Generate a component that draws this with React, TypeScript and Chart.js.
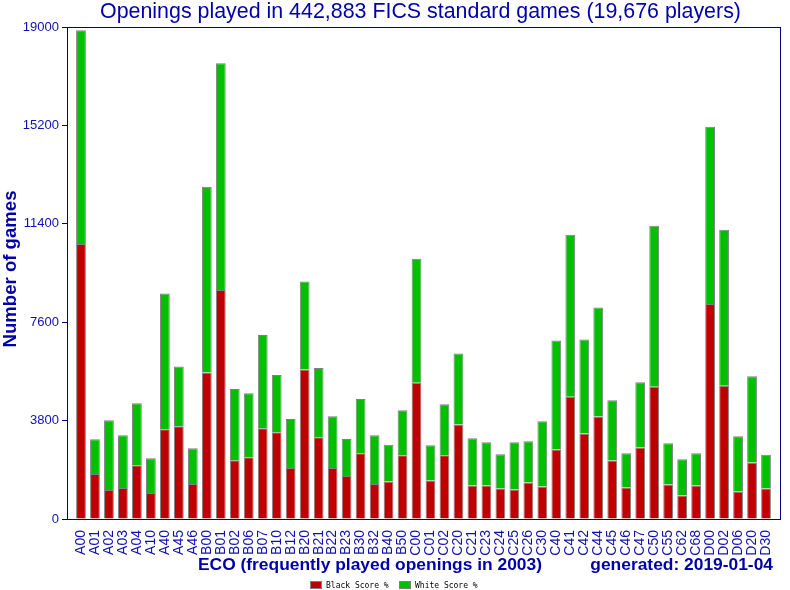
import React, { useEffect, useRef } from "react";
import { Chart, registerables } from "chart.js";

Chart.register(...registerables);

const categories = [
  "A00", "A01", "A02", "A03", "A04", "A10", "A40", "A45", "A46",
  "B00", "B01", "B02", "B06", "B07", "B10", "B12", "B20", "B21", "B22", "B23", "B30", "B32", "B40", "B50",
  "C00", "C01", "C02", "C20", "C21", "C23", "C24", "C25", "C26", "C30", "C40", "C41", "C42", "C44", "C45", "C46", "C47", "C50", "C55", "C62", "C68",
  "D00", "D02", "D06", "D20", "D30",
];

const blackGames = [
  10619, 1733, 1117, 1194, 2080, 1002, 3467, 3582, 1348,
  5662, 8847, 2273, 2388, 3505, 3351, 1965, 5778, 3159, 1965, 1656, 2542, 1348, 1451, 2465,
  5264, 1489, 2465, 3647, 1297, 1297, 1181, 1143, 1412, 1258, 2684, 4725, 3300, 3955, 2260, 1220, 2761, 5110, 1335, 912, 1297,
  8307, 5149, 1066, 2183, 1181,
];

const whiteGames = [
  8256, 1349, 2696, 2042, 2388, 1348, 5239, 2312, 1387,
  7165, 8757, 2747, 2466, 3596, 2209, 1900, 3390, 2670, 2003, 1438, 2093, 1888, 1412, 1734,
  4789, 1361, 1965, 2747, 1823, 1669, 1323, 1823, 1593, 2517, 4211, 6249, 3634, 4211, 2324, 1322, 2516, 6212, 1593, 1399, 1245,
  6840, 6018, 2131, 3325, 1297,
];

const yTicks = [0, 3800, 7600, 11400, 15200, 19000];

const titleText = "Openings played in 442,883 FICS standard games (19,676 players)";
const yTitleText = "Number of games";
const xTitleText = "ECO (frequently played openings in 2003)";
const generatedText = "generated: 2019-01-04";
const seriesLabels = ["Black Score %", "White Score %"];
const seriesColors = ["#C00000", "#00C000"];

const TEXT = "#1010B0";
const FRAME = "#000080";

const decorPlugin = {
  id: "decor",
  afterDatasetsDraw(chart: any) {
    const { ctx, chartArea } = chart;
    ctx.save();
    ctx.strokeStyle = FRAME;
    ctx.lineWidth = 1;
    ctx.strokeRect(
      Math.round(chartArea.left) + 0.5,
      Math.round(chartArea.top) + 0.5,
      Math.round(chartArea.right - chartArea.left),
      Math.round(chartArea.bottom - chartArea.top)
    );
    ctx.restore();
  },
  afterDraw(chart: any) {
    const { ctx, chartArea } = chart;
    ctx.save();
    ctx.fillStyle = "#0000AA";
    // title
    ctx.font = "21.4px 'Liberation Sans', Arial, sans-serif";
    ctx.textAlign = "center";
    ctx.textBaseline = "alphabetic";
    ctx.fillText(titleText, (chartArea.left + chartArea.right) / 2 - 3, 18);
    // y title
    ctx.font = "bold 18.6px 'Liberation Sans', Arial, sans-serif";
    ctx.save();
    ctx.translate(16, (chartArea.top + chartArea.bottom) / 2 - 4);
    ctx.rotate(-Math.PI / 2);
    ctx.textAlign = "center";
    ctx.fillText(yTitleText, 0, 0);
    ctx.restore();
    // x titles
    ctx.font = "bold 17.4px 'Liberation Sans', Arial, sans-serif";
    ctx.textAlign = "center";
    ctx.fillText(xTitleText, 370, 570);
    ctx.textAlign = "right";
    ctx.fillText(generatedText, 773, 570);
    // legend
    const ds = chart.data.datasets;
    ctx.font = "8px 'DejaVu Sans Mono', monospace";
    ctx.textAlign = "left";
    ctx.textBaseline = "middle";
    const xs = [310, 399];
    ds.forEach((d: any, i: number) => {
      const x = xs[i];
      ctx.fillStyle = d.backgroundColor;
      ctx.fillRect(x, 581, 12, 8);
      ctx.strokeStyle = "#808080";
      ctx.lineWidth = 1;
      ctx.strokeRect(x + 0.5, 581.5, 11, 7);
      ctx.fillStyle = "#000000";
      ctx.fillText(d.label, x + 16, 585.5);
    });
    ctx.restore();
  },
};

export default function App() {
  const canvasRef = useRef<HTMLCanvasElement | null>(null);

  useEffect(() => {
    if (!canvasRef.current) return;
    const chart = new Chart(canvasRef.current, {
      type: "bar",
      data: {
        datasets: [
          {
            label: seriesLabels[0],
            data: blackGames.map((v, i) => ({ x: i, y: v })),
            backgroundColor: seriesColors[0],
            borderColor: "#808080",
            borderWidth: 1,
            barPercentage: 0.7,
            categoryPercentage: 1,
          },
          {
            label: seriesLabels[1],
            data: whiteGames.map((v, i) => ({ x: i, y: v })),
            backgroundColor: seriesColors[1],
            borderColor: "#808080",
            borderWidth: 1,
            barPercentage: 0.7,
            categoryPercentage: 1,
          },
        ],
      },
      plugins: [decorPlugin],
      options: {
        animation: false,
        responsive: true,
        maintainAspectRatio: false,
        devicePixelRatio: 1,
        layout: { padding: { left: 0, right: 10, top: 27, bottom: 0 } },
        plugins: {
          legend: { display: false },
          title: { display: false },
          tooltip: { enabled: false },
        },
        scales: {
          x: {
            type: "linear",
            stacked: true,
            offset: false,
            min: -1,
            max: categories.length,
            border: { display: false },
            grid: { display: false, drawOnChartArea: false },
            afterBuildTicks: (axis: any) => {
              axis.ticks = categories.map((_, i) => ({ value: i }));
            },
            afterFit: (axis: any) => {
              axis.height = 71;
            },
            ticks: {
              autoSkip: false,
              minRotation: 90,
              maxRotation: 90,
              padding: 3,
              color: TEXT,
              font: { family: "'Liberation Sans', Arial, sans-serif", size: 14 },
              callback: (v: any) => categories[v] ?? "",
            },
          },
          y: {
            stacked: true,
            min: 0,
            max: 19000,
            border: { display: false },
            afterBuildTicks: (axis: any) => {
              axis.ticks = yTicks.map((v) => ({ value: v }));
            },
            afterFit: (axis: any) => {
              axis.width = 67;
            },
            grid: {
              drawOnChartArea: false,
              drawTicks: true,
              tickLength: 5,
              color: FRAME,
            },
            ticks: {
              padding: 3,
              color: TEXT,
              font: { family: "'Liberation Sans', Arial, sans-serif", size: 13 },
              callback: (v: any) => String(v),
            },
          },
        },
      },
    });
    return () => chart.destroy();
  }, []);

  return (
    <div style={{ position: "absolute", left: 0, top: 0, width: 790, height: 590, background: "#ffffff" }}>
      <canvas ref={canvasRef} />
    </div>
  );
}
